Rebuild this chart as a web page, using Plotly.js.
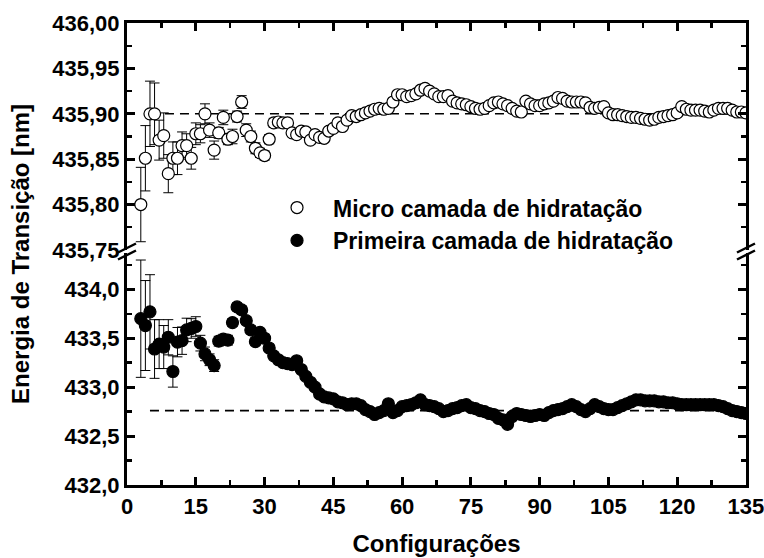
<!DOCTYPE html>
<html><head><meta charset="utf-8">
<script src="https://cdn.plot.ly/plotly-3.0.1.min.js"></script>
<style>html,body{margin:0;padding:0;background:#fff}#chart{width:764px;height:558px}</style>
</head><body><div id="chart"></div>
<script>
const configuracoes = [3,4,5,6,7,8,9,10,11,12,
 13,14,15,16,17,18,19,20,21,22,
 23,24,25,26,27,28,29,30,31,32,
 33,34,35,36,37,38,39,40,41,42,
 43,44,45,46,47,48,49,50,51,52,
 53,54,55,56,57,58,59,60,61,62,
 63,64,65,66,67,68,69,70,71,72,
 73,74,75,76,77,78,79,80,81,82,
 83,84,85,86,87,88,89,90,91,92,
 93,94,95,96,97,98,99,100,101,102,
 103,104,105,106,107,108,109,110,111,112,
 113,114,115,116,117,118,119,120,121,122,
 123,124,125,126,127,128,129,130,131,132,
 133,134,135];

const microCamada = [435.800,435.851,435.900,435.900,435.871,435.876,435.834,435.851,435.851,435.865,
 435.865,435.851,435.878,435.878,435.900,435.882,435.860,435.879,435.896,435.872,
 435.875,435.897,435.913,435.882,435.875,435.862,435.857,435.854,435.872,435.890,
 435.891,435.890,435.890,435.879,435.877,435.881,435.880,435.871,435.877,435.874,
 435.873,435.881,435.884,435.890,435.886,435.893,435.898,435.897,435.899,435.901,
 435.903,435.905,435.906,435.905,435.906,435.913,435.921,435.921,435.919,435.920,
 435.922,435.926,435.928,435.925,435.922,435.919,435.919,435.920,435.914,435.912,
 435.911,435.910,435.908,435.906,435.905,435.906,435.909,435.912,435.913,435.911,
 435.909,435.906,435.903,435.902,435.914,435.911,435.909,435.909,435.911,435.912,
 435.914,435.918,435.917,435.914,435.913,435.913,435.913,435.912,435.907,435.906,
 435.907,435.908,435.901,435.899,435.899,435.898,435.897,435.896,435.896,435.895,
 435.894,435.893,435.894,435.896,435.897,435.898,435.899,435.901,435.908,435.905,
 435.904,435.904,435.904,435.903,435.902,435.904,435.906,435.906,435.906,435.904,
 435.902,435.902,435.901];

const microErro = [0.041,0.036,0.036,0.034,0.022,0.025,0.021,0.018,0.018,0.015,
 0.013,0.012,0.012,0.010,0.011,0.008,0.010,0.006,0.008,0.006,
 0.008,0.006,0.007,0.007,0.006,0.006,0.005,0.005,0.005,0.005,
 0.004,0.004,0.004,0.004,0.004,0.004,0.004,0.004,0.004,0.004,
 0.004,0.004,0.004,0.003,0.003,0.003,0.003,0.003,0.003,0.003,
 0.003,0.003,0.003,0.003,0.003,0.003,0.003,0.003,0.002,0.002,
 0.002,0.002,0.002,0.002,0.002,0.002,0.002,0.002,0.002,0.002,
 0.002,0.002,0.002,0.002,0.002,0.002,0.002,0.002,0.002,0.002,
 0.002,0.002,0.002,0.002,0.002,0.002,0.002,0.002,0.002,0.002,
 0.002,0.002,0.002,0.002,0.002,0.002,0.002,0.002,0.002,0.002,
 0.002,0.002,0.002,0.002,0.002,0.002,0.002,0.002,0.002,0.002,
 0.002,0.002,0.002,0.002,0.002,0.002,0.002,0.002,0.002,0.002,
 0.002,0.002,0.002,0.002,0.002,0.002,0.002,0.002,0.002,0.002,
 0.002,0.002,0.002];

const primeiraCamada = [433.70,433.63,433.77,433.39,433.44,433.41,433.51,433.16,433.46,433.475,
 433.585,433.60,433.62,433.45,433.34,433.28,433.22,433.47,433.49,433.48,
 433.66,433.82,433.79,433.68,433.585,433.465,433.56,433.50,433.40,433.32,
 433.28,433.25,433.24,433.23,433.27,433.18,433.11,433.05,433.00,432.93,
 432.90,432.89,432.88,432.85,432.84,432.82,432.83,432.83,432.81,432.77,
 432.75,432.72,432.74,432.76,432.83,432.74,432.76,432.80,432.81,432.82,
 432.84,432.87,432.82,432.81,432.80,432.78,432.75,432.76,432.78,432.79,
 432.81,432.82,432.79,432.78,432.76,432.75,432.73,432.72,432.68,432.665,
 432.62,432.70,432.73,432.72,432.71,432.70,432.71,432.72,432.71,432.74,
 432.76,432.77,432.78,432.80,432.82,432.80,432.77,432.75,432.78,432.82,
 432.80,432.78,432.77,432.77,432.79,432.81,432.83,432.85,432.87,432.87,
 432.86,432.86,432.86,432.85,432.85,432.84,432.84,432.83,432.82,432.82,
 432.82,432.82,432.82,432.82,432.82,432.82,432.81,432.80,432.78,432.76,
 432.75,432.74,432.73];

const primeiraErro = [0.60,0.46,0.38,0.30,0.25,0.22,0.18,0.16,0.15,0.14,
 0.12,0.10,0.10,0.08,0.07,0.06,0.06,0.05,0.05,0.05,
 0.04,0.04,0.04,0.04,0.04,0.04,0.04,0.04,0.03,0.03,
 0.03,0.03,0.03,0.03,0.03,0.03,0.03,0.03,0.03,0.03,
 0.03,0.03,0.03,0.03,0.03,0.03,0.03,0.03,0.03,0.03,
 0.03,0.03,0.03,0.03,0.03,0.03,0.03,0.03,0.02,0.02,
 0.02,0.02,0.02,0.02,0.02,0.02,0.02,0.02,0.02,0.02,
 0.02,0.02,0.02,0.02,0.02,0.02,0.02,0.02,0.02,0.02,
 0.02,0.02,0.02,0.02,0.02,0.02,0.02,0.02,0.02,0.02,
 0.02,0.02,0.02,0.02,0.02,0.02,0.02,0.02,0.02,0.02,
 0.02,0.02,0.02,0.02,0.02,0.02,0.02,0.02,0.02,0.02,
 0.02,0.02,0.02,0.02,0.02,0.02,0.02,0.02,0.02,0.02,
 0.02,0.02,0.02,0.02,0.02,0.02,0.02,0.02,0.02,0.02,
 0.02,0.02,0.02];

const refX = [5, 135];
const refMicro = [435.90, 435.90];
const refPrimeira = [432.76, 432.76];

const xTicks = [0,15,30,45,60,75,90,105,120,135];
const yTicksBaixo = [432.0,432.5,433.0,433.5,434.0];
const yTicksAlto = [435.75,435.80,435.85,435.90,435.95,436.00];

const nomeMicro = 'Micro camada de hidratação';
const nomePrimeira = 'Primeira camada de hidratação';
const tituloX = 'Configurações';
const tituloY = 'Energia de Transição [nm]';

const FONT = '"Liberation Sans", Arial, sans-serif';
const dashLine = {color:'#000', width:1.6, dash:'9px,6px'};
const errStyle = {color:'#000', thickness:1, width:5};

const traces = [
  {x: refX, y: refMicro, xaxis:'x2', yaxis:'y2', mode:'lines', line: dashLine, showlegend:false, hoverinfo:'skip'},
  {x: refX, y: refPrimeira, xaxis:'x', yaxis:'y', mode:'lines', line: dashLine, showlegend:false, hoverinfo:'skip'},
  {x: configuracoes, y: microCamada, xaxis:'x2', yaxis:'y2', mode:'markers', name: nomeMicro, legendgroup:'a',
   marker:{symbol:'circle', size:12, color:'#fff', line:{color:'#000', width:1.2}},
   error_y:Object.assign({type:'data', array: microErro, visible:true}, errStyle)},
  {x: configuracoes, y: primeiraCamada, xaxis:'x', yaxis:'y', mode:'markers', name: nomePrimeira, legendgroup:'b',
   marker:{symbol:'circle', size:12, color:'#000', line:{color:'#000', width:1.2}},
   error_y:Object.assign({type:'data', array: primeiraErro, visible:true}, errStyle)}
];

const axCommon = {
  showline:true, linewidth:3, linecolor:'#000', showgrid:false, zeroline:false,
  ticks:'inside', ticklen:8, tickwidth:3, tickcolor:'#000', ticklabeloverflow:'allow',
  tickfont:{family:FONT, size:22, color:'#000', weight:'bold'}
};

const layout = {
  width:764, height:558,
  margin:{l:127, r:18, t:23, b:73},
  paper_bgcolor:'#fff', plot_bgcolor:'#fff',
  separators:',.',
  font:{family:FONT, size:22, color:'#000'},
  showlegend:true,
  legend:{x:0.2165, y:0.647, xanchor:'left', yanchor:'top', bgcolor:'rgba(0,0,0,0)',
    font:{family:FONT, size:23, color:'#000', weight:'bold'}, itemwidth:62, traceorder:'grouped', tracegroupgap:0},
  xaxis: Object.assign({}, axCommon, {anchor:'y', domain:[0,1], range:[-0.01,135.01],
    tickmode:'array', tickvals:xTicks, ticktext:xTicks.map(String),
    minor:{dtick:7.5, tick0:0, ticks:'inside', ticklen:5, tickwidth:2.5, tickcolor:'#000'},
    title:{text:tituloX, font:{family:FONT, size:24, color:'#000', weight:'bold'}, standoff:17}}),
  xaxis2: Object.assign({}, axCommon, {anchor:'y2', matches:'x', side:'top', showticklabels:false,
    tickmode:'array', tickvals:xTicks,
    minor:{dtick:7.5, tick0:0, ticks:'inside', ticklen:5, tickwidth:2.5, tickcolor:'#000'}}),
  yaxis: Object.assign({}, axCommon, {anchor:'x', domain:[0,0.5022], range:[431.999,434.372], mirror:'ticks',
    tickmode:'array', tickvals:yTicksBaixo, tickformat:'.1f',
    minor:{dtick:0.25, tick0:432, ticks:'inside', ticklen:5, tickwidth:2.5, tickcolor:'#000'}}),
  yaxis2: Object.assign({}, axCommon, {anchor:'x2', domain:[0.5087,1], range:[435.7499,436.0001], mirror:'ticks',
    tickmode:'array', tickvals:yTicksAlto, tickformat:'.2f',
    minor:{dtick:0.025, tick0:435.75, ticks:'inside', ticklen:5, tickwidth:2.5, tickcolor:'#000'}}),
  annotations:[
    {text:tituloY, xref:'paper', yref:'paper', x:-0.1729, y:0.5, xanchor:'center', yanchor:'middle',
     textangle:-90, showarrow:false, font:{family:FONT, size:24, color:'#000', weight:'bold'}}
  ],
  shapes:[]
};

[0,1].forEach(function(xa){
  [[-9,-1,9,8],[-9,-8,9,1]].forEach(function(s){
    layout.shapes.push({type:'line', xref:'paper', yref:'paper', xsizemode:'pixel', ysizemode:'pixel',
      xanchor:xa, yanchor:0.5054, x0:s[0], y0:s[1], x1:s[2], y1:s[3], line:{color:'#000', width:2.5}});
  });
});

Plotly.newPlot('chart', traces, layout, {displayModeBar:false, staticPlot:true});
</script>
</body></html>
